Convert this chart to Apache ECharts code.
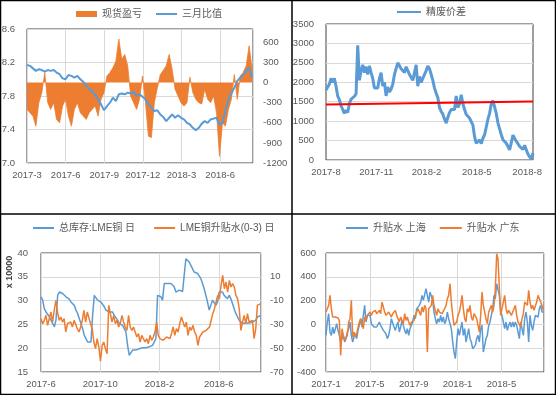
<!DOCTYPE html>
<html><head><meta charset="utf-8">
<script src="https://cdn.jsdelivr.net/npm/echarts@6/dist/echarts.min.js"></script>
<style>html,body{margin:0;padding:0;background:#fff}#c{width:556px;height:395px}</style>
</head><body><div id="c"></div>
<script>
// ---------- DATA ----------
// Panel 1 (base month 2017-3), weekly points
const p1Base = [2017, 3];
const p1Step = 0.23; // months per point
const p1Ratio = [8.17,8.16,8.13,8.10,8.12,8.11,8.09,8.11,8.10,8.11,8.08,8.06,8.01,8.00,8.05,8.04,8.02,8.04,8.00,7.97,
  7.92,7.88,7.86,7.81,7.76,7.70,7.63,7.68,7.72,7.78,7.74,7.82,7.83,7.82,7.84,7.83,7.85,7.80,7.82,7.79,
  7.76,7.70,7.66,7.62,7.63,7.58,7.55,7.50,7.54,7.58,7.54,7.57,7.54,7.52,7.48,7.46,7.42,7.39,7.42,7.47,
  7.50,7.48,7.52,7.53,7.54,7.46,7.48,7.62,7.76,7.83,7.90,7.98,8.02,8.05,8.10,8.14,8.02];
const p1Profit = [-400,-450,-500,-650,-300,-150,150,-300,-400,-300,-550,-600,-350,-250,-500,-650,-400,-300,-450,-500,
  -550,-450,-400,-350,-500,-250,-150,100,150,220,320,650,350,420,250,-200,-300,-400,-250,100,
  -300,-800,-820,-300,-80,120,180,250,420,200,-100,-200,-300,-350,-300,80,-150,-250,-300,-320,
  -100,-250,-300,-200,-450,-1100,-600,-650,-400,-250,120,-250,100,150,250,550,200];

// Panel 2 (base month 2017-8)
const p2Base = [2017, 8];
const p2Step = 0.0996;
const p2Spread = [1800,1820,1950,2100,2000,2100,1900,1650,1550,1400,1300,1200,1280,1220,1450,1560,1600,1640,1700,2950,
  2050,2300,2450,2250,2400,2200,2420,2250,2100,1850,1800,1850,2100,2250,1900,2000,1650,1880,1750,1820,
  1950,2200,2350,2500,2450,2350,2300,2250,2400,2300,2200,2180,2050,2250,2450,1900,2150,2000,2050,2200,
  2300,2420,2350,2200,2050,1850,1720,1600,1350,1250,1180,1050,950,1100,1220,1300,1320,1300,1650,1350,
  1450,1680,1450,1300,1170,1120,1080,1030,900,600,430,450,520,420,560,650,700,1050,1200,1450,
  1530,1520,1200,950,800,650,520,560,430,450,260,250,640,600,480,420,350,390,270,380,
  260,150,80,20,180];
const p2Trend = [1430, 1505];

// Panel 3 (base month 2017-6)
const p3Base = [2017, 6];
const p3StockStep = 0.1124;
const p3Stock = [30.8,30.1,28.3,27.6,27.6,26.6,25.9,26.2,24.5,25.9,31.1,31.8,31.9,31.5,31.1,30.8,30.4,30.3,29.7,29.4,
  29.0,28.0,27.3,26.2,25.2,24.1,22.7,22.0,21.3,21.0,21.3,26.9,31.1,30.8,30.1,29.7,29.7,29.4,28.7,28.0,
  28.3,27.6,27.3,27.6,26.9,26.6,25.9,25.2,24.8,24.8,24.1,23.4,20.6,18.5,18.2,19.6,19.6,19.6,19.8,19.9,
  20.3,20.1,20.3,20.1,20.3,20.3,20.5,20.6,21.0,22.0,31.1,31.1,30.8,30.1,33.6,33.8,33.6,33.9,33.6,33.2,
  32.9,31.8,31.5,32.2,32.2,31.9,32.2,38.8,38.5,38.1,37.4,37.1,36.0,35.7,35.7,35.3,34.6,33.6,32.5,31.1,
  29.7,28.0,29.0,30.1,29.7,29.0,29.7,31.8,31.5,31.8,31.1,30.8,30.4,31.1,30.4,29.4,28.3,27.3,26.6,25.9,
  25.5,25.2,25.2,25.3,25.2,25.3,25.4,25.5,25.6,25.9,26.6,26.8,26.8];
const p3SpreadStep = 0.1115;
const p3Spread = [-25.2,-29.4,-26.6,-22.4,-30.8,-25.2,-19.6,-28,-18.2,-9.8,-19.6,-26.6,-23.8,-28,-25.2,-36.4,-29.4,-30.8,-28,-32.2,
  -26.6,-28,-33.6,-36.4,-32.2,-26.6,-18.2,-28,-19.6,-18.2,-29.4,-33.6,-44.8,-50.4,-42,-49,-60.8,-47.6,-44.8,-50.4,
  -54.6,-14,-12.6,-28,-22.4,-29.4,-26.6,-32.2,-29.4,-22.4,-28,-32.2,-35,-22.4,-32.2,-35,-32.2,-36.4,-40.6,-37.8,
  -44.8,-39.2,-40.6,-44.8,-42,-46.2,-39.2,-43.4,-40.6,-36.4,-28,-39.2,-42,-40.6,-43.4,-42,-40.6,-42,-42,-37.8,
  -32.2,-39.2,-33.6,-36.4,-29.4,-23.8,-28,-32.2,-28,-39.2,-32.2,-35,-30.8,-36.4,-39.2,-47.6,-40.6,-39.2,-36.4,-37.8,
  -35,-33.6,-32.2,-26.6,-21,-16.8,-11.2,-5.6,-8.4,2.8,11.2,0,5.6,-2.8,7,1.4,4.2,1.4,-5.6,-8.4,
  -16.8,-35,-28,-22.4,-29.4,-21,-28,-29.4,-26.6,-42,-33.6,-14,-12.6,-12.6];

// Panel 4 (base month 2017-1)
const p4Base = [2017, 1];
const p4Step = 0.1216;
const p4SH = [-92,20,90,-64,-92,-22,-78,-36,6,-50,-92,-148,-120,-92,-148,-120,-64,-36,20,-92,
  -148,-106,-78,-120,-50,-8,48,-22,76,160,20,76,90,76,6,20,-22,-36,-22,-36,
  20,-8,-22,-50,-36,-78,-120,-92,-36,48,62,-22,-50,-8,20,-64,-22,34,-8,-50,
  -78,-36,-92,-36,-8,20,76,48,132,118,160,188,244,202,216,300,244,188,272,286,
  202,104,48,6,48,20,76,20,62,6,34,104,48,6,-36,-148,-232,-288,-148,-36,
  -92,-36,20,-92,-36,-148,-92,-36,-120,-148,-204,-204,-176,-120,-92,-148,-36,-8,-232,-176,
  -120,-92,-8,20,76,132,244,216,342,356,244,104,76,20,-36,20,-50,-8,20,-22,
  20,-22,20,-8,-64,-120,20,-36,-92,48,104,20,-148,76,-8,-50,20,76,62,62,
  132,160,104,104];
const p4GD = [104,132,160,244,132,62,48,62,48,54,34,-260,-36,-92,-134,-120,-92,20,48,202,
  -106,-64,-106,-78,-64,20,48,6,-36,62,34,76,62,104,76,104,90,118,90,104,
  118,90,188,202,104,76,90,104,118,62,90,76,118,76,48,20,62,48,6,90,
  34,62,20,-8,20,6,34,76,104,132,118,76,146,104,160,132,-232,132,132,160,
  244,160,118,76,132,104,118,90,104,132,160,216,244,342,188,76,-8,-22,20,76,
  104,160,244,132,48,20,132,104,160,62,34,90,76,48,-8,-64,76,272,160,104,
  48,6,104,132,160,104,160,300,594,552,300,76,132,188,244,132,90,118,104,76,
  104,132,160,76,20,6,-22,48,90,188,202,160,286,188,132,160,118,132,188,244,
  258,188,160,118];

// ---------- BUILD ----------
const FF = "'Liberation Sans','Noto Sans CJK SC',sans-serif";
const BLUE = '#5B9BD5', ORANGE = '#ED7D31', RED = '#FF0000', TXT = '#595959', GRIDC = '#D9D9D9', FRAME = '#404040';

function pts(vals, step) { return vals.map((v, i) => [i * step, v]); }
function monthFmt(base) {
  return v => {
    const r = Math.round(v);
    if (Math.abs(v - r) > 1e-6) return '';
    const t = base[1] - 1 + r;
    return (base[0] + Math.floor(t / 12)) + '-' + ((t % 12) + 1);
  };
}
const lab = (extra) => Object.assign({color: TXT, fontSize: 9.5, fontFamily: FF}, extra || {});

const grids = [
  {left: 27, top: 29, width: 226, height: 134},
  {left: 326, top: 24, width: 207, height: 136},
  {left: 41, top: 253, width: 220, height: 119},
  {left: 326, top: 253, width: 218, height: 119}
].map(g => Object.assign(g, {show: true, borderColor: FRAME, borderWidth: 1, backgroundColor: 'transparent', outerBoundsMode: 'none'}));

function xAxis(gi, max, interval, base, split) {
  return {type: 'value', gridIndex: gi, min: 0, max: max, interval: interval,
    axisLine: {show: false}, axisTick: {show: false},
    splitLine: {show: split, lineStyle: {color: GRIDC, width: 1}},
    axisLabel: lab({formatter: monthFmt(base), margin: 8, showMaxLabel: false})};
}
function yAxis(gi, pos, min, max, interval, split, fmt, margin) {
  return {type: 'value', gridIndex: gi, position: pos, min: min, max: max, interval: interval,
    axisLine: {show: false}, axisTick: {show: false},
    splitLine: {show: split, lineStyle: {color: GRIDC, width: 1}},
    axisLabel: lab({formatter: fmt, margin: margin, showMaxLabel: pos === 'left' || max % interval === 0,
      align: pos === 'right' ? 'left' : 'right'})};
}

const xAxes = [
  xAxis(0, 17.55, 3, p1Base, true),
  xAxis(1, 12.35, 3, p2Base, false),
  xAxis(2, 14.85, 4, p3Base, true),
  xAxis(3, 19.88, 4, p4Base, true)
];
const yAxes = [
  yAxis(0, 'left', 7.0, 8.6, 0.4, true, v => v.toFixed(1), 12),
  yAxis(0, 'right', -1200, 800, 300, false, v => (v % 300 === 0 ? String(v) : ''), 10),
  yAxis(1, 'left', 0, 3500, 500, true, v => String(v), 12),
  yAxis(2, 'left', 15, 40, 5, true, v => String(v), 13),
  yAxis(2, 'right', -70, 30, 20, false, v => String(v), 9),
  yAxis(3, 'left', -400, 600, 200, true, v => String(v), 10)
];

const lineS = (name, xi, yi, data, color, width, z) => ({
  name: name, type: 'line', xAxisIndex: xi, yAxisIndex: yi, data: data, symbol: 'none',
  lineStyle: {color: color, width: width}, itemStyle: {color: color}, z: z || 2, animation: false
});

const p2End = (p2Spread.length - 1) * p2Step;
const series = [
  Object.assign(lineS('现货盈亏', 0, 1, pts(p1Profit, p1Step), ORANGE, 0.8, 1), {areaStyle: {color: ORANGE, opacity: 1, origin: 0}}),
  lineS('三月比值', 0, 0, pts(p1Ratio, p1Step), BLUE, 2, 3),
  lineS('精废价差', 1, 2, pts(p2Spread, p2Step), BLUE, 3, 2),
  lineS('趋势', 1, 2, [[0, p2Trend[0]], [p2End, p2Trend[1]]], RED, 2, 3),
  lineS('总库存:LME铜 日', 2, 3, pts(p3Stock, p3StockStep), BLUE, 1.5, 2),
  lineS('LME铜升贴水(0-3) 日', 2, 4, pts(p3Spread, p3SpreadStep), ORANGE, 1.5, 3),
  lineS('升贴水 上海', 3, 5, pts(p4SH, p4Step), BLUE, 1.5, 2),
  lineS('升贴水 广东', 3, 5, pts(p4GD, p4Step), ORANGE, 1.5, 3)
];

const legTxt = {color: TXT, fontSize: 10, fontFamily: FF};
const legends = [
  {left: 76, top: 9, itemGap: 13, itemWidth: 21, itemHeight: 6, textStyle: legTxt,
    data: [{name: '现货盈亏', icon: 'rect', itemStyle: {color: ORANGE, opacity: 1}}, '三月比值']},
  {left: 396, top: 7, itemWidth: 24, itemHeight: 6, textStyle: legTxt, data: ['精废价差']},
  {left: 32, top: 223, itemGap: 18, itemWidth: 21, itemHeight: 6, textStyle: legTxt,
    data: ['总库存:LME铜 日', 'LME铜升贴水(0-3) 日']},
  {left: 345, top: 223, itemGap: 13, itemWidth: 22, itemHeight: 6, textStyle: legTxt,
    data: ['升贴水 上海', '升贴水 广东']}
];
legends.forEach(l => { l.padding = 0; l.selectedMode = false; l.itemStyle = {opacity: 0}; l.lineStyle = {width: 2}; });

const K = '#000';
const graphic = [
  {type: 'rect', shape: {x: 0.5, y: 0.5, width: 555, height: 394}, style: {fill: null, stroke: K, lineWidth: 1.5}, silent: true},
  {type: 'line', shape: {x1: 292, y1: 0, x2: 292, y2: 395}, style: {stroke: K, lineWidth: 1.5}, silent: true},
  {type: 'line', shape: {x1: 0, y1: 214, x2: 556, y2: 214}, style: {stroke: K, lineWidth: 1.5}, silent: true},
  {type: 'text', x: 10, y: 272, rotation: Math.PI / 2,
    style: {text: 'x 10000', fill: '#404040', fontSize: 9, fontWeight: 'bold', fontFamily: FF, align: 'center', verticalAlign: 'middle'}, silent: true}
];

const chart = echarts.init(document.getElementById('c'), null, {renderer: 'canvas'});
chart.setOption({
  animation: false,
  backgroundColor: '#fff',
  grid: grids, xAxis: xAxes, yAxis: yAxes, series: series, legend: legends, graphic: graphic
});
</script></body></html>
